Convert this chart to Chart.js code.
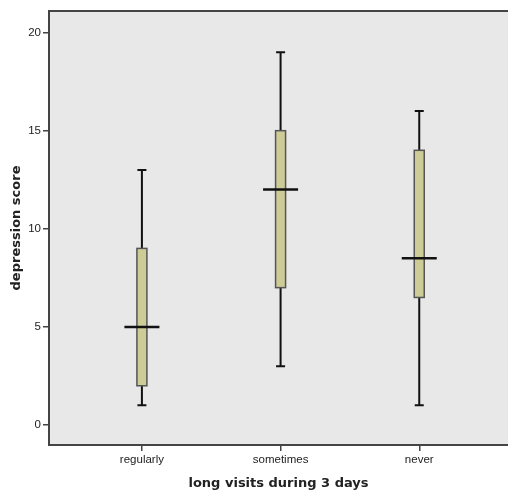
<!DOCTYPE html>
<html>
<head>
<meta charset="utf-8">
<script src="https://cdn.jsdelivr.net/npm/chart.js@4"></script>
<style>
  html, body { margin: 0; padding: 0; background: #fff; }
  #wrap { width: 508px; height: 493px; }
</style>
</head>
<body>
<div id="wrap"><canvas id="myChart" width="508" height="493"></canvas></div>
<script>
// data
const categories = ["regularly", "sometimes", "never"];
const whiskerLow = [1, 3, 1];
const q1 = [2, 7, 6.5];
const median = [5, 12, 8.5];
const q3 = [9, 15, 14];
const whiskerHigh = [13, 19, 16];
const yTicks = [0, 5, 10, 15, 20];

// draw the boxes with the chart's own scales
const boxPlugin = {
  id: "boxes",
  beforeDraw(chart) {
    const { ctx, chartArea: a } = chart;
    ctx.save();
    ctx.fillStyle = "#e8e8e8";
    ctx.fillRect(a.left, a.top, a.right - a.left, a.bottom - a.top);
    // top frame line
    ctx.strokeStyle = "#444";
    ctx.lineWidth = 2;
    ctx.beginPath();
    ctx.moveTo(a.left, a.top);
    ctx.lineTo(a.right, a.top);
    ctx.stroke();
    ctx.restore();
  },
  afterDatasetsDraw(chart) {
    const ctx = chart.ctx;
    const xs = chart.scales.x;
    const ys = chart.scales.y;
    ctx.save();
    categories.forEach((c, i) => {
      const x = xs.getPixelForValue(i);
      const yLo = ys.getPixelForValue(whiskerLow[i]);
      const yQ1 = ys.getPixelForValue(q1[i]);
      const yMed = ys.getPixelForValue(median[i]);
      const yQ3 = ys.getPixelForValue(q3[i]);
      const yHi = ys.getPixelForValue(whiskerHigh[i]);

      // whiskers
      ctx.strokeStyle = "#111";
      ctx.lineWidth = 2;
      ctx.beginPath();
      ctx.moveTo(x, yHi);
      ctx.lineTo(x, yQ3);
      ctx.moveTo(x, yQ1);
      ctx.lineTo(x, yLo);
      // caps
      ctx.moveTo(x - 4.5, yHi);
      ctx.lineTo(x + 4.5, yHi);
      ctx.moveTo(x - 4.5, yLo);
      ctx.lineTo(x + 4.5, yLo);
      ctx.stroke();

      // box
      ctx.fillStyle = "#cdcb96";
      ctx.fillRect(x - 5, yQ3, 10, yQ1 - yQ3);
      ctx.strokeStyle = "#555";
      ctx.lineWidth = 1.5;
      ctx.strokeRect(x - 5, yQ3, 10, yQ1 - yQ3);

      // median
      ctx.strokeStyle = "#111";
      ctx.lineWidth = 2.5;
      ctx.beginPath();
      ctx.moveTo(x - 17.5, yMed);
      ctx.lineTo(x + 17.5, yMed);
      ctx.stroke();
    });
    ctx.restore();
  },
};

const data = {
  datasets: [
    {
      label: "median",
      data: median.map((m, i) => ({ x: i, y: m })),
      pointRadius: 0,
      showLine: false,
    },
  ],
};

const options = {
  responsive: false,
  animation: false,
  layout: { padding: { top: 11, right: 0, left: 0, bottom: 0 } },
  plugins: {
    legend: { display: false },
    tooltip: { enabled: false },
  },
  scales: {
    x: {
      type: "linear",
      min: -0.67,
      max: 2.64,
      afterBuildTicks: (scale) => {
        scale.ticks = categories.map((c, i) => ({ value: i }));
      },
      afterFit: (scale) => {
        scale.height = 48;
      },
      ticks: {
        callback: (v) => categories[v],
        color: "#222",
        font: { family: "Liberation Sans, Arial", size: 11.5 },
        padding: 2,
        maxRotation: 0,
      },
      grid: { drawOnChartArea: false, tickLength: 6, color: "#444", lineWidth: 1.5 },
      border: { color: "#444", width: 2 },
      title: {
        display: true,
        text: "long visits during 3 days",
        color: "#222",
        font: { family: "DejaVu Sans", size: 13, weight: "bold" },
        padding: { top: 0, bottom: 2 },
      },
    },
    y: {
      min: -1.02,
      max: 21.1,
      afterBuildTicks: (scale) => {
        scale.ticks = yTicks.map((v) => ({ value: v }));
      },
      afterFit: (scale) => {
        scale.width = 49;
      },
      ticks: {
        color: "#222",
        font: { family: "Liberation Sans, Arial", size: 11.5 },
        padding: 2,
      },
      grid: { drawOnChartArea: false, tickLength: 6, color: "#444", lineWidth: 1.5 },
      border: { color: "#444", width: 2 },
      title: {
        display: true,
        text: "depression score",
        color: "#222",
        font: { family: "DejaVu Sans", size: 13, weight: "bold" },
        padding: { top: 9, bottom: 0 },
      },
    },
  },
};

const ctx = document.getElementById("myChart").getContext("2d");
let myChart = new Chart(ctx, {
  type: "scatter",
  data,
  options,
  plugins: [boxPlugin],
});
</script>
</body>
</html>
